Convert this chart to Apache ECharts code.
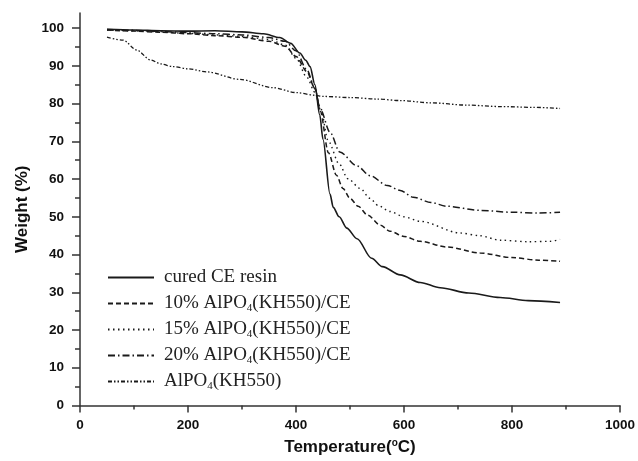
<!DOCTYPE html>
<html>
<head>
<meta charset="utf-8">
<script src="https://cdn.jsdelivr.net/npm/echarts@6/dist/echarts.min.js"></script>
<style>
  html, body { margin: 0; padding: 0; background: #fff; }
  #container { width: 638px; height: 461px; }
</style>
</head>
<body>
<div id="container"></div>
<script>
// TGA curves, weight (%) against temperature (C)
var seriesNames = ['cured CE resin', '10% AlPO4(KH550)/CE', '15% AlPO4(KH550)/CE', '20% AlPO4(KH550)/CE', 'AlPO4(KH550)'];

var tempCE = [50, 100, 150, 200, 250, 300, 340, 370, 390, 407, 418, 426, 435, 444, 450, 463, 469, 480, 494, 513, 540, 560, 593, 630, 667, 720, 778, 830, 889];
var weightCE = [99.7, 99.5, 99.3, 99.2, 99.3, 99.0, 98.5, 97.5, 96, 93.4, 91.5, 89.8, 85, 77, 70.5, 56, 52.5, 50, 47, 44.2, 39, 36.8, 34.6, 32.6, 31.2, 29.8, 28.6, 27.8, 27.3];

var temp10 = [50, 100, 150, 200, 250, 300, 350, 380, 400, 420, 435, 445, 460, 475, 487, 500, 515, 533, 556, 574, 600, 630, 680, 741, 800, 850, 889];
var weight10 = [99.5, 99.2, 98.9, 98.5, 98.0, 97.6, 96.5, 95.2, 92.5, 88.5, 84, 78, 67, 61, 57.5, 54.9, 52.8, 50.4, 47.8, 46.2, 44.8, 43.5, 42, 40.4, 39.2, 38.5, 38.2];

var temp15 = [50, 100, 150, 200, 250, 300, 350, 380, 400, 420, 435, 445, 460, 480, 496, 519, 537, 552, 574, 600, 630, 704, 740, 778, 830, 870, 889];
var weight15 = [99.5, 99.3, 99.0, 98.6, 98.2, 97.8, 97, 95.5, 92, 87, 83, 79, 70, 64, 60.1, 57.5, 54.9, 53, 51.4, 50, 48.8, 45.7, 45, 43.8, 43.4, 43.5, 44];

var temp20 = [50, 100, 150, 200, 250, 300, 350, 380, 400, 420, 435, 445, 463, 481, 513, 537, 569, 593, 617, 650, 679, 741, 800, 850, 889];
var weight20 = [99.6, 99.4, 99.1, 98.8, 98.5, 98.2, 97.5, 96.5, 94, 89, 84, 78.5, 72.4, 67.2, 63.5, 60.9, 58.3, 57.0, 55.2, 53.8, 52.8, 51.7, 51.2, 51.0, 51.2];

var tempAl = [50, 80, 105, 130, 150, 172, 200, 235, 296, 358, 401, 435, 450, 500, 550, 593, 650, 716, 780, 840, 889];
var weightAl = [97.6, 96.8, 94.2, 91.6, 90.5, 89.8, 89.2, 88.4, 86.4, 84.2, 82.9, 82.2, 81.9, 81.6, 81.2, 80.8, 80.2, 79.6, 79.2, 79.0, 78.7];

var yMajorTicks = [0, 10, 20, 30, 40, 50, 60, 70, 80, 90, 100];
var yMinorTicks = [5, 15, 25, 35, 45, 55, 65, 75, 85, 95];

var dashTypes = ['solid', [5, 3], [1.5, 3.5], [7, 3, 1.5, 3], [4, 2, 1.5, 2, 1.5, 2]];
var widths = [1.6, 1.5, 1.4, 1.5, 1.3];

function pairs(xs, ys) {
    var out = [];
    for (var i = 0; i < xs.length; i++) out.push([xs[i], ys[i]]);
    return out;
}
var allData = [
    pairs(tempCE, weightCE),
    pairs(temp10, weight10),
    pairs(temp15, weight15),
    pairs(temp20, weight20),
    pairs(tempAl, weightAl)
];

var dom = document.getElementById('container');
var myChart = echarts.init(dom, null, { renderer: 'canvas' });

var labelFont = {
    color: '#111',
    fontFamily: 'Liberation Sans',
    fontWeight: 'bold',
    fontSize: 13.5
};

var series = [];
for (var i = 0; i < seriesNames.length; i++) {
    series.push({
        name: seriesNames[i],
        type: 'line',
        data: allData[i],
        showSymbol: false,
        symbol: 'none',
        smooth: 0.3,
        smoothMonotone: 'x',
        lineStyle: { color: '#1a1a1a', width: widths[i], type: dashTypes[i] },
        itemStyle: { color: '#1a1a1a' }
    });
}

var option = {
    animation: false,
    backgroundColor: '#fff',
    grid: { left: 80, right: 18, top: 13, bottom: 52 },
    legend: {
        orient: 'vertical',
        left: 102,
        top: 262,
        itemWidth: 46,
        itemHeight: 12,
        itemGap: 5,
        data: seriesNames,
        itemStyle: { color: 'transparent', borderWidth: 0, opacity: 0 },
        formatter: function (name) {
            return name.replace('PO4', 'PO{s|4}');
        },
        textStyle: {
            color: '#222',
            fontFamily: 'Liberation Serif',
            fontSize: 19,
            lineHeight: 21,
            padding: [0, 0, 0, 5],
            rich: {
                s: { fontSize: 11, fontFamily: 'Liberation Serif', color: '#222', verticalAlign: 'bottom', lineHeight: 21 }
            }
        }
    },
    xAxis: {
        type: 'value',
        min: 0,
        max: 1000,
        interval: 200,
        name: 'Temperature({sup|o}C)',
        nameLocation: 'middle',
        nameGap: 33,
        nameTextStyle: {
            color: '#111',
            fontFamily: 'Liberation Sans',
            fontWeight: 'bold',
            fontSize: 17,
            rich: {
                sup: { fontSize: 10, fontWeight: 'bold', fontFamily: 'Liberation Sans', color: '#111', verticalAlign: 'top', padding: [0, 0, 8, 0] }
            }
        },
        axisLine: { lineStyle: { color: '#333', width: 1.5 } },
        axisTick: { length: 7, lineStyle: { color: '#333', width: 1.5 } },
        minorTick: { show: true, splitNumber: 2, length: 4, lineStyle: { color: '#333', width: 1.5 } },
        axisLabel: Object.assign({
            margin: 13,
            formatter: function (v) { return String(v); }
        }, labelFont),
        splitLine: { show: false }
    },
    yAxis: [{
        type: 'value',
        min: 0,
        max: 104,
        name: 'Weight (%)',
        nameLocation: 'middle',
        nameGap: 48,
        nameTextStyle: {
            color: '#111',
            fontFamily: 'Liberation Sans',
            fontWeight: 'bold',
            fontSize: 17
        },
        axisLine: { show: true, lineStyle: { color: '#333', width: 1.5 } },
        axisTick: { show: true, length: 8, customValues: yMajorTicks, lineStyle: { color: '#333', width: 1.5 } },
        axisLabel: Object.assign({ margin: 16, customValues: yMajorTicks }, labelFont),
        splitLine: { show: false }
    }, {
        type: 'value',
        position: 'left',
        min: 0,
        max: 104,
        axisLine: { show: false },
        axisTick: { show: true, length: 5, customValues: yMinorTicks, lineStyle: { color: '#333', width: 1.5 } },
        axisLabel: { show: false },
        splitLine: { show: false }
    }],
    series: series
};

myChart.setOption(option);
window.addEventListener('resize', myChart.resize);
</script>
</body>
</html>
